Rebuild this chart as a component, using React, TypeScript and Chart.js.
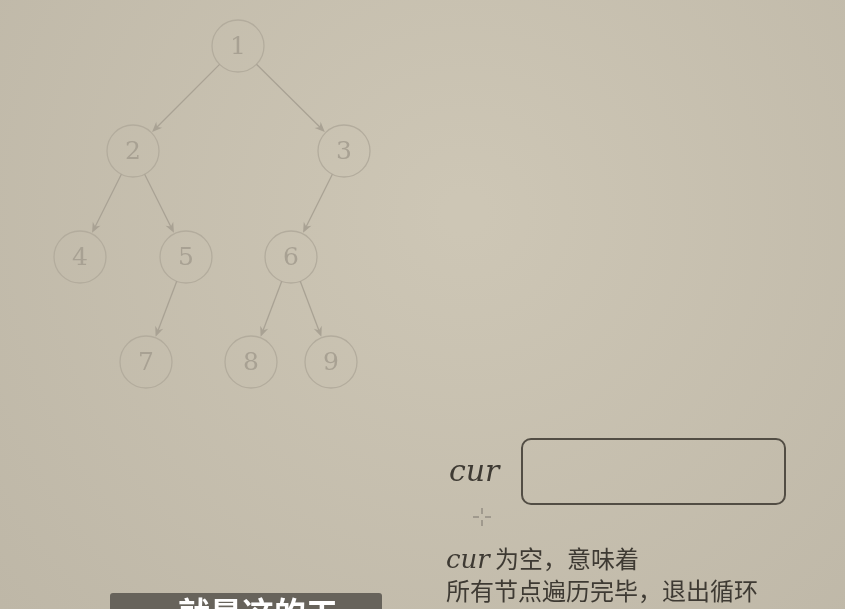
import React, { useEffect, useRef } from "react";
import { Chart, registerables } from "chart.js";
Chart.register(...registerables);

const nodeLabels = ["1", "2", "3", "4", "5", "6", "7", "8", "9"];
const nodeX = [238, 133, 344, 80, 186, 291, 146, 251, 331];
const nodeY = [46, 151, 151, 257, 257, 257, 362, 362, 362];
const edgeFrom = [0, 0, 1, 1, 2, 4, 5, 5];
const edgeTo = [1, 2, 3, 4, 5, 6, 7, 8];
const curLabel = "cur";
const noteLine1 = " 为空，意味着";
const noteLine2 = "所有节点遍历完毕，退出循环";
const subtitle = "就是这的工";

const R = 26;
const NODE_COLOR = "#b3ac9d";

const drawPlugin = {
  id: "treeDraw",
  beforeDraw(chart: any) {
    const { ctx, width, height } = chart;
    const g = ctx.createRadialGradient(width * 0.55, height * 0.35, 20, width * 0.55, height * 0.35, 650);
    g.addColorStop(0, "#cdc6b5");
    g.addColorStop(1, "#bdb6a6");
    ctx.save();
    ctx.fillStyle = g;
    ctx.fillRect(0, 0, width, height);
    ctx.restore();
  },
  afterDatasetsDraw(chart: any) {
    const { ctx } = chart;
    const xs = chart.scales.x, ys = chart.scales.y;
    const px = (i: number) => xs.getPixelForValue(nodeX[i]);
    const py = (i: number) => ys.getPixelForValue(nodeY[i]);
    ctx.save();
    ctx.strokeStyle = "#a9a294";
    ctx.fillStyle = "#a9a294";
    ctx.lineWidth = 1.3;
    edgeFrom.forEach((f, k) => {
      const t = edgeTo[k];
      const x1 = px(f), y1 = py(f), x2 = px(t), y2 = py(t);
      const a = Math.atan2(y2 - y1, x2 - x1);
      const sx = x1 + Math.cos(a) * R, sy = y1 + Math.sin(a) * R;
      const ex = x2 - Math.cos(a) * (R + 1), ey = y2 - Math.sin(a) * (R + 1);
      ctx.beginPath();
      ctx.moveTo(sx, sy);
      ctx.lineTo(ex - Math.cos(a) * 6, ey - Math.sin(a) * 6);
      ctx.stroke();
      ctx.beginPath();
      ctx.moveTo(ex, ey);
      ctx.lineTo(ex - Math.cos(a - 0.4) * 11, ey - Math.sin(a - 0.4) * 11);
      ctx.lineTo(ex - Math.cos(a) * 7, ey - Math.sin(a) * 7);
      ctx.lineTo(ex - Math.cos(a + 0.4) * 11, ey - Math.sin(a + 0.4) * 11);
      ctx.closePath();
      ctx.fill();
    });
    ctx.fillStyle = "#a8a193";
    ctx.font = "25px 'DejaVu Serif', serif";
    ctx.textAlign = "center";
    ctx.textBaseline = "middle";
    nodeLabels.forEach((l, i) => ctx.fillText(l, px(i), py(i) + 1));

    ctx.fillStyle = "#3e3a33";
    ctx.textAlign = "left";
    ctx.textBaseline = "alphabetic";
    ctx.font = "italic 30px 'DejaVu Serif', 'Liberation Serif', serif";
    ctx.fillText(curLabel, 449, 481);
    ctx.strokeStyle = "#524d44";
    ctx.lineWidth = 2;
    ctx.beginPath();
    ctx.roundRect(522, 439, 263, 65, 9);
    ctx.stroke();
    ctx.strokeStyle = "#7a756c";
    ctx.lineWidth = 1;
    ctx.beginPath();
    ctx.moveTo(482, 508); ctx.lineTo(482, 514);
    ctx.moveTo(482, 520); ctx.lineTo(482, 526);
    ctx.moveTo(473, 517); ctx.lineTo(479, 517);
    ctx.moveTo(485, 517); ctx.lineTo(491, 517);
    ctx.stroke();
    ctx.fillStyle = "#3e3a33";
    ctx.font = "italic 26px 'DejaVu Serif', 'Liberation Serif', serif";
    ctx.fillText("cur", 446, 568);
    const w = ctx.measureText("cur").width;
    ctx.font = "24px 'Noto Sans CJK SC'";
    ctx.fillText(noteLine1, 446 + w, 568);
    ctx.fillText(noteLine2, 446, 600);
    ctx.fillStyle = "#67635b";
    ctx.beginPath();
    ctx.roundRect(110, 593, 272, 30, 3);
    ctx.fill();
    ctx.fillStyle = "#ffffff";
    ctx.font = "bold 32px 'Noto Sans CJK SC'";
    ctx.fillText(subtitle, 178, 625);
    ctx.restore();
  },
};

export default function App() {
  const ref = useRef<HTMLCanvasElement>(null);
  useEffect(() => {
    const chart = new Chart(ref.current!, {
      type: "scatter",
      data: {
        datasets: [
          {
            data: nodeX.map((x, i) => ({ x, y: nodeY[i] })),
            pointRadius: R,
            pointBackgroundColor: "rgba(0,0,0,0)",
            pointBorderColor: NODE_COLOR,
            pointBorderWidth: 1.3,
            clip: false as any,
          },
        ],
      },
      options: {
        animation: false,
        responsive: false,
        layout: { padding: 0, autoPadding: false } as any,
        plugins: { legend: { display: false }, tooltip: { enabled: false } },
        scales: {
          x: { type: "linear", min: 0, max: 845, display: false },
          y: { type: "linear", min: 0, max: 609, reverse: true, display: false },
        },
      },
      plugins: [drawPlugin],
    });
    return () => chart.destroy();
  }, []);
  return (
    <div style={{ position: "fixed", left: 0, top: 0, width: 845, height: 609 }}>
      <canvas ref={ref} width={845} height={609} style={{ display: "block" }} />
    </div>
  );
}
